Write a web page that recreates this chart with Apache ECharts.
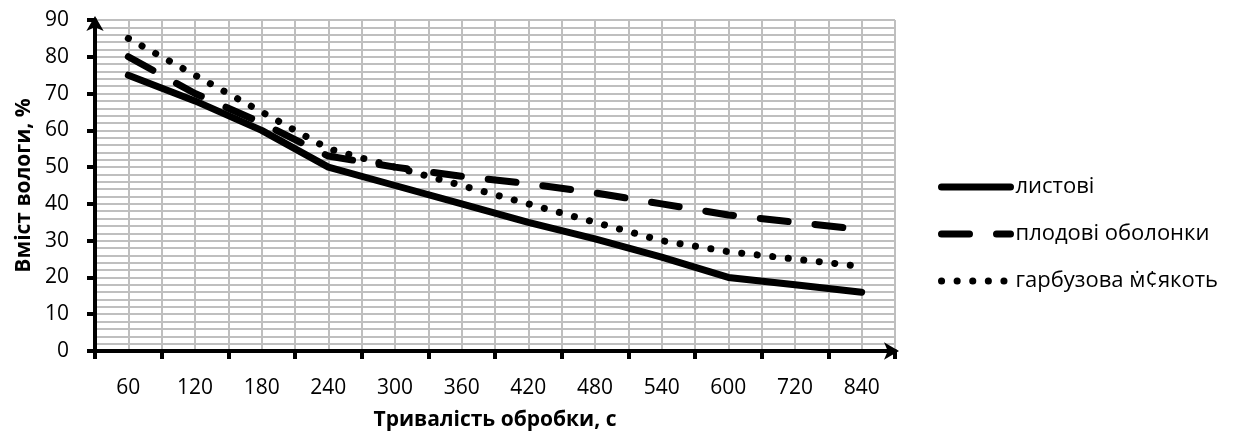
<!DOCTYPE html>
<html>
<head>
<meta charset="utf-8">
<script src="https://cdn.jsdelivr.net/npm/echarts@6/dist/echarts.min.js"></script>
<style>
  html, body { margin: 0; padding: 0; background: #fff; }
  #chart { width: 1235px; height: 439px; }
</style>
</head>
<body>
<div id="chart"></div>
<script>
// Treatment duration, seconds
const durations = ['60', '120', '180', '240', '300', '360', '420', '480', '540', '600', '720', '840'];

// Moisture content, %
const leafy = [75, 68, 60, 50, 45, 40, 35, 30.5, 25.5, 20, 18, 16];
const fruitPeel = [80, 70, 62, 53, 50, 47.5, 45.5, 43, 40, 37, 35, 33];
const pumpkinPulp = [85, 75, 65, 55, 50, 45, 40, 35, 30, 27, 25, 23];

const seriesNames = ['листові', 'плодові оболонки', 'гарбузова м\u0307¢якоть'];

const FONT = '"Open Sans", "Noto Sans", sans-serif';
const gridColor = '#bfbfbf';

const chart = echarts.init(document.getElementById('chart'), null, { renderer: 'canvas' });

function lineSeries(name, data, lineStyle) {
  return {
    name: name,
    type: 'line',
    xAxisIndex: 0,
    yAxisIndex: 0,
    data: data,
    symbol: 'none',
    showSymbol: false,
    smooth: false,
    lineStyle: Object.assign({ color: '#000', width: 7 }, lineStyle),
    itemStyle: { color: '#000' },
    emphasis: { disabled: true },
    z: 5
  };
}

chart.setOption({
  animation: false,
  backgroundColor: '#fff',
  grid: { left: 95, right: 340, top: 20, bottom: 88 },
  legend: {
    orient: 'vertical',
    left: 933,
    top: 171,
    itemWidth: 69,
    itemHeight: 14,
    itemGap: 25,
    itemStyle: { color: 'transparent', borderWidth: 0, opacity: 0 },
    lineStyle: { width: 7, cap: 'round', color: '#000' },
    textStyle: { fontFamily: FONT, fontSize: 22, color: '#000', padding: [0, 0, 0, 0] },
    data: seriesNames
  },
  xAxis: [
    {
      type: 'category',
      data: durations,
      boundaryGap: true,
      name: 'Тривалість обробки, с',
      nameLocation: 'middle',
      nameGap: 59,
      nameTextStyle: { fontFamily: FONT, fontSize: 21, fontWeight: 'bold', color: '#000' },
      axisLine: {
        show: true,
        lineStyle: { color: '#000', width: 4 },
        symbol: ['none', 'arrow'],
        symbolSize: [13, 15],
        symbolOffset: [0, 4]
      },
      axisTick: { show: true, alignWithLabel: false, length: 8, lineStyle: { color: '#000', width: 4 } },
      axisLabel: { fontFamily: FONT, fontSize: 21, color: '#000', margin: 27 },
      splitLine: { show: false }
    },
    {
      // fine vertical grid: category boundaries and centres
      type: 'value',
      min: 0,
      max: 24,
      interval: 1,
      position: 'bottom',
      axisLine: { show: false },
      axisTick: { show: false },
      axisLabel: { show: false },
      splitLine: { show: true, lineStyle: { color: gridColor, width: 2 } }
    }
  ],
  yAxis: {
    type: 'value',
    min: 0,
    max: 90,
    interval: 10,
    name: 'Вміст вологи, %',
    nameLocation: 'middle',
    nameGap: 60,
    nameTextStyle: { fontFamily: FONT, fontSize: 21, fontWeight: 'bold', color: '#000' },
    axisLine: {
      show: true,
      lineStyle: { color: '#000', width: 4 },
      symbol: ['none', 'arrow'],
      symbolSize: [13, 15],
      symbolOffset: [0, 4]
    },
    axisTick: { show: true, length: 8, lineStyle: { color: '#000', width: 4 } },
    axisLabel: { fontFamily: FONT, fontSize: 21, color: '#000', margin: 26 },
    splitLine: { show: true, lineStyle: { color: gridColor, width: 2 } },
    minorTick: { show: false, splitNumber: 5 },
    minorSplitLine: { show: true, lineStyle: { color: gridColor, width: 2 } }
  },
  series: [
    lineSeries(seriesNames[0], leafy, { type: 'solid', cap: 'round', join: 'round' }),
    lineSeries(seriesNames[1], fruitPeel, { type: [28, 27], cap: 'round', join: 'round' }),
    lineSeries(seriesNames[2], pumpkinPulp, { type: [0.1, 15.5], cap: 'round', join: 'round' })
  ]
});
</script>
</body>
</html>
